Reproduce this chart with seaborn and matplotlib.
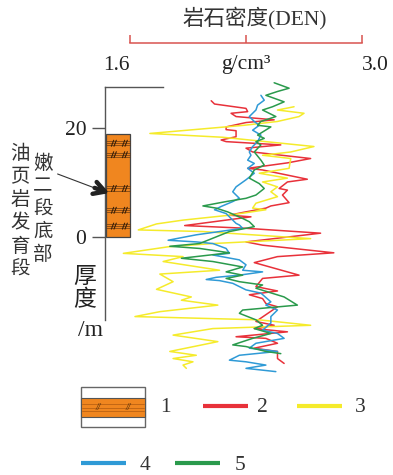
import matplotlib
matplotlib.use("Agg")
import pandas as pd
import seaborn as sns
from matplotlib import pyplot as plt
from matplotlib.patches import Rectangle

# density logs (g/cm3) against thickness (m)
red_depth = [25.0, 24.4, 23.6, 23.0, 22.7, 22.1, 21.5, 21.0, 20.2, 19.7, 19.5, 18.4, 17.8, 17.5, 16.9,
             16.3, 15.6, 14.4, 13.6, 12.6, 12.3, 10.6, 10.1, 8.9, 8.6, 7.7, 6.3, 5.7, 5.3, 4.5,
             4.0, 3.7, 2.1, 1.6, 0.7, -0.9, -1.5, -2.9, -3.6, -4.7, -7.0, -7.6, -9.1, -9.9, -10.6,
             -11.3, -12.2, -12.8, -15.5, -16.2, -16.8, -17.4, -18.3, -18.6, -19.5, -20.4, -21.0, -22.3, -23.2]
red_den = [2.09, 2.11, 2.30, 2.31, 2.21, 2.24, 2.47, 2.30, 2.18, 2.18, 2.24, 2.24, 2.15, 2.18, 2.51,
           2.30, 2.34, 2.69, 2.55, 2.31, 2.40, 2.67, 2.55, 2.50, 2.55, 2.52, 2.56, 2.45, 2.42, 2.28,
           2.20, 2.33, 1.93, 2.30, 2.75, 2.30, 2.40, 2.83, 2.49, 2.35, 2.62, 2.40, 2.36, 2.49, 2.32,
           2.40, 2.42, 2.49, 2.36, 2.47, 2.35, 2.55, 2.24, 2.42, 2.49, 2.35, 2.49, 2.49, 2.53]

yellow_depth = [23.9, 23.3, 22.7, 22.1, 21.2, 20.5, 19.0, 18.3, 16.6, 15.6, 15.0, 14.4, 12.6, 11.7, 10.8,
                10.1, 9.2, 8.3, 7.4, 6.2, 5.3, 5.0, 4.0, 3.1, 2.4, 1.3, 1.0, -0.3, -1.2, -1.8,
                -3.0, -3.6, -4.5, -6.1, -6.8, -8.2, -9.6, -11.0, -11.6, -12.5, -13.7, -14.6, -15.2, -16.2, -16.8,
                -18.0, -19.2, -21.0, -21.7, -22.3, -22.9, -23.5, -24.1]
yellow_den = [2.59, 2.49, 2.65, 2.62, 2.49, 2.29, 1.72, 2.16, 2.71, 2.57, 2.40, 2.57, 2.56, 2.38, 2.55,
              2.40, 2.49, 2.45, 2.49, 2.36, 2.34, 2.42, 2.20, 1.92, 1.76, 1.65, 2.04, 2.69, 2.10, 1.83,
              1.56, 1.92, 1.80, 2.14, 1.78, 1.86, 1.76, 1.97, 1.91, 2.13, 1.78, 1.63, 2.38, 2.69, 2.10,
              1.86, 2.13, 1.84, 2.00, 1.86, 1.98, 1.92, 1.94]

blue_depth = [26.0, 25.1, 24.2, 23.3, 22.1, 21.2, 20.5, 19.6, 18.7, 17.5, 16.6, 15.6, 15.0, 14.1, 13.5,
              12.6, 11.7, 10.5, 9.2, 8.3, 7.1, 6.5, 5.6, 5.0, 4.3, 3.7, 2.5, 2.2, 1.6, 1.0,
              0.4, -0.3, -0.6, -0.9, -1.2, -2.1, -3.0, -3.3, -4.2, -5.1, -6.1, -6.4, -7.0, -7.4, -7.8,
              -8.0, -8.5, -9.7, -10.3, -11.9, -12.5, -13.4, -14.6, -15.8, -17.1, -17.7, -18.6, -19.5, -20.4, -21.0,
              -21.7, -22.6, -22.9, -23.5, -24.1, -24.7]
blue_den = [2.39, 2.41, 2.37, 2.36, 2.32, 2.35, 2.38, 2.34, 2.39, 2.37, 2.34, 2.32, 2.33, 2.31, 2.35,
            2.31, 2.35, 2.30, 2.24, 2.22, 2.26, 2.22, 2.15, 2.11, 2.18, 2.20, 2.24, 2.26, 2.28, 2.14,
            2.00, 1.88, 1.83, 2.00, 2.10, 2.18, 2.20, 2.10, 2.26, 2.30, 2.28, 2.40, 2.26, 2.12, 2.06,
            2.14, 2.22, 2.30, 2.39, 2.45, 2.42, 2.49, 2.45, 2.45, 2.40, 2.49, 2.53, 2.36, 2.32, 2.49,
            2.26, 2.20, 2.30, 2.42, 2.30, 2.48]

green_depth = [28.3, 27.3, 26.7, 26.0, 24.8, 23.9, 23.3, 22.1, 21.2, 20.5, 20.2, 18.7, 18.1, 17.5, 16.9,
               15.6, 14.1, 13.2, 12.3, 10.8, 9.8, 8.9, 7.7, 7.1, 6.5, 5.7, 5.3, 4.6, 3.4, 2.8,
               1.9, 1.0, -1.2, -1.7, -2.1, -2.9, -3.9, -4.5, -5.5, -6.4, -7.0, -7.6, -8.2, -8.8, -9.4,
               -11.0, -12.5, -13.4, -14.0, -15.2, -16.2, -16.8, -17.7, -18.6, -19.8, -20.1, -21.0, -21.4]
green_den = [2.47, 2.56, 2.49, 2.42, 2.53, 2.46, 2.40, 2.48, 2.39, 2.37, 2.45, 2.37, 2.41, 2.36, 2.39,
             2.35, 2.39, 2.41, 2.35, 2.32, 2.38, 2.41, 2.36, 2.30, 2.18, 2.04, 2.12, 2.19, 2.28, 2.32,
             2.35, 2.20, 2.02, 1.84, 2.02, 2.20, 1.91, 2.10, 2.28, 2.18, 2.28, 2.18, 2.26, 2.40, 2.36,
             2.53, 2.61, 2.28, 2.26, 2.36, 2.40, 2.35, 2.45, 2.34, 2.22, 2.30, 2.42, 2.51]

curve_names = ["2", "3", "4", "5"]
curve_colors = ["#e8313a", "#f5eb2b", "#2f9ad6", "#2a9a4c"]

den_ticks = [1.6, 2.3, 3.0]
den_labels = ["1.6", "g/cm³", "3.0"]
thick_ticks = [0, 20]
shale_top, shale_base = 18.9, 0.0
bed_centers = [17.2, 15.1, 8.9, 4.9, 2.0]

W, H = 393, 475


def fx(px):
    return px / W


def fy(py):
    return 1 - py / H


sns.set_style("white")
plt.rcParams["font.family"] = ["Liberation Serif", "Noto Sans CJK SC"]
plt.rcParams["axes.unicode_minus"] = False

fig = plt.figure(figsize=(W / 100, H / 100), dpi=100)

# depth scale: 0 m at y=237 px, 20 m at y=128 px
ppm = (237 - 128) / 20
ylim = ((237 - 375) / ppm, (237 - 87) / ppm)

df = pd.concat([
    pd.DataFrame({"den": d, "depth": z, "curve": n})
    for d, z, n in zip([red_den, yellow_den, blue_den, green_den],
                       [red_depth, yellow_depth, blue_depth, green_depth], curve_names)
])

# lithology column + thickness axis
ax_l = fig.add_axes([fx(105), fy(375), 58 / W, 288 / H])
ax_l.set_facecolor("none")
ax_l.set_ylim(*ylim)
ax_l.set_xlim(0, 1)
for s in ["right", "bottom"]:
    ax_l.spines[s].set_visible(False)
for s in ["left", "top"]:
    ax_l.spines[s].set_color("#555555")
    ax_l.spines[s].set_linewidth(1.0)
ax_l.spines["left"].set_bounds((237 - 320) / ppm, ylim[1])
ax_l.set_xticks([])
ax_l.set_yticks(thick_ticks)
ax_l.set_yticklabels([str(t) for t in thick_ticks])
ax_l.tick_params(axis="y", left=True, direction="out", length=9.5, width=1.0, color="#555555",
                 labelsize=15.5, pad=4, labelcolor="#222222")
tr = ax_l.get_yaxis_transform()
ax_l.add_patch(Rectangle((1 / 58, shale_base), 24 / 58, shale_top - shale_base, transform=tr,
                         facecolor="#f0861f", edgecolor="#444444", lw=0.9, zorder=2))
for c in bed_centers:
    for dz in [-0.4, 0.0, 0.4]:
        ax_l.plot([1 / 58, 25 / 58], [c + dz, c + dz], transform=tr, color="#6b3a12", lw=0.5, zorder=3)
    for xc in [0.13, 0.32]:
        for off in [0.0, 0.045]:
            ax_l.plot([xc + off - 0.02, xc + off + 0.02], [c - 0.55, c + 0.55], transform=tr,
                      color="#3a2008", lw=0.8, zorder=3)

# curves
ax = fig.add_axes([fx(130), fy(375), 232 / W, 288 / H])
ax.set_facecolor("none")
sns.lineplot(data=df, x="den", y="depth", hue="curve", palette=dict(zip(curve_names, curve_colors)),
             orient="y", estimator=None, sort=False, lw=1.1, legend=False, ax=ax)
for ln in ax.lines:
    ln.set_clip_on(False)
ax.set_xlim(1.6, 3.0)
ax.set_ylim(*ylim)
ax.set_axis_off()

# density scale bracket
ax_s = fig.add_axes([fx(130), fy(43), 232 / W, 10 / H])
ax_s.set_facecolor("none")
ax_s.set_xlim(1.6, 3.0)
for s in ["left", "right", "top"]:
    ax_s.spines[s].set_visible(False)
ax_s.spines["bottom"].set_color("#d9534f")
ax_s.spines["bottom"].set_linewidth(1.1)
ax_s.set_yticks([])
ax_s.set_xticks(den_ticks)
ax_s.set_xticklabels(den_labels)
ax_s.tick_params(axis="x", bottom=True, direction="in", length=6, width=1.1, color="#d9534f",
                 labelsize=15.5, pad=9, labelcolor="#222222")
lbls = ax_s.get_xticklabels()
lbls[0].set_ha("right")
lbls[-1].set_ha("left")

# texts, arrow and legend in pixel coordinates
ov = fig.add_axes([0, 0, 1, 1])
ov.set_xlim(0, W)
ov.set_ylim(H, 0)
ov.set_axis_off()
ov.set_facecolor("none")

ov.text(255, 18, "岩石密度(DEN)", ha="center", va="center", fontsize=15.5, color="#333333")
for i, ch in enumerate("油页岩发育段"):
    ov.text(20, 154 + i * 23.2, ch, ha="center", va="center", fontsize=14, color="#333333")
for i, ch in enumerate("嫩二段底部"):
    ov.text(43, 164 + i * 22.8, ch, ha="center", va="center", fontsize=14, color="#333333")
ov.text(85, 277, "厚", ha="center", va="center", fontsize=16.5, color="#222222")
ov.text(85, 301, "度", ha="center", va="center", fontsize=16.5, color="#222222")
ov.text(90, 331, "/m", ha="center", va="center", fontsize=17, color="#222222")

ov.annotate("", xy=(108, 193), xytext=(55, 173),
            arrowprops=dict(arrowstyle="-", lw=0.8, color="#333333"))
ov.annotate("", xy=(112, 194), xytext=(92, 187),
            arrowprops=dict(arrowstyle="->,head_length=0.8,head_width=0.45", lw=3.2, color="#222222"))

# legend
ov.add_patch(Rectangle((81, 387), 64, 40, facecolor="white", edgecolor="#666666", lw=1.0))
ov.add_patch(Rectangle((81, 398), 64, 19, facecolor="#f0861f", edgecolor="#555555", lw=0.8))
for yy in [404, 407.5, 411]:
    ov.plot([82, 144], [yy, yy], color="#b05a10", lw=0.5)
for xx in [98, 128]:
    ov.text(xx, 407.5, "//", ha="center", va="center", fontsize=7, style="italic", color="#4a2a0a")
ov.text(165, 408, "1", ha="center", va="center", fontsize=15.5, color="#333333")

leg_pos = [(203, 406, 257), (297, 406, 355), (81, 463, 140), (175, 463, 235)]
for (x0, yy, xt), name, col in zip(leg_pos, curve_names, curve_colors):
    ov.plot([x0, x0 + 45], [yy, yy], color=col, lw=3.0, solid_capstyle="butt")
    ov.text(xt + 5, yy + 2, name, ha="center", va="center", fontsize=15.5, color="#333333")

fig.savefig("out.png", dpi=100)
